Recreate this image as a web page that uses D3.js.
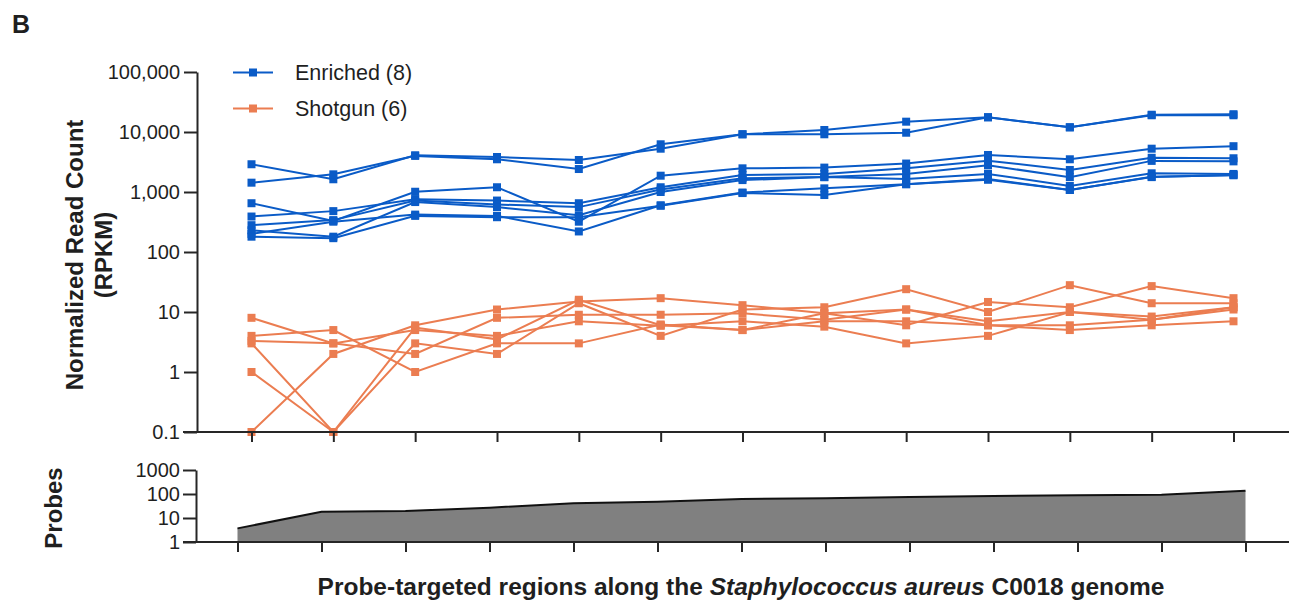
<!DOCTYPE html>
<html>
<head>
<meta charset="utf-8">
<script src="https://cdn.jsdelivr.net/npm/d3@7"></script>
<style>
  body { margin: 0; background: #fff; }
  svg text { font-family: "Liberation Sans", Arial, Helvetica, sans-serif; fill: #1f1f1f; }
</style>
</head>
<body>
<svg id="chart" width="1290" height="601"></svg>
<script>
// 13 probe-targeted regions, no labels on the x axis
var regions = d3.range(13);

// Enriched libraries (RPKM), one array per sample
var enriched1 = [2900, 1630, 4090, 3830, 3415, 5270, 9160, 9160, 9730, 17600, 11970, 19000, 19000];
var enriched2 = [1430, 1970, 4000, 3510, 2415, 6240, 9160, 10800, 14860, 17600, 11970, 19400, 19800];
var enriched3 = [650, 330, 1010, 1200, 320, 1870, 2480, 2550, 2980, 4140, 3510, 5270, 5800];
var enriched4 = [390, 480, 760, 720, 650, 1200, 1920, 2000, 2480, 3330, 2330, 3720, 3650];
var enriched5 = [280, 340, 720, 620, 560, 1100, 1700, 1770, 2000, 2780, 1770, 3300, 3240];
var enriched6 = [230, 180, 680, 560, 410, 1000, 1580, 1770, 1650, 2000, 1260, 2050, 2000];
var enriched7 = [200, 320, 420, 400, 220, 600, 980, 1150, 1350, 1640, 1080, 1770, 1920];
var enriched8 = [180, 170, 400, 380, 380, 590, 960, 890, 1350, 1600, 1080, 1800, 1900];

// Shotgun libraries (RPKM)
var shotgun1 = [8, 3, 5, 4, 7, 5.9, 7, 5.7, 3, 4, 10, 7.4, 11];
var shotgun2 = [4, 5, 1, 3, 3, 6.2, 5, 7, 7, 6, 5, 6, 7];
var shotgun3 = [3.3, 3, 2, 8, 9, 9, 9.5, 7.4, 11, 6, 6, 7.4, 12];
var shotgun4 = [3, 0.1, 5.5, 3.5, 16, 6, 5, 9.5, 11, 7, 10, 8.4, 12];
var shotgun5 = [1, 0.1, 3, 2, 14, 4, 11, 12, 24, 10, 28, 14, 14];
var shotgun6 = [0.1, 2, 6, 11, 15, 17, 13, 9.5, 6, 14.7, 12, 27, 17];

// probes per region
var probes = [3.7, 18, 19.5, 27, 41, 48, 62, 66, 75, 83, 88, 94, 138];

var readTicks = [0.1, 1, 10, 100, 1000, 10000, 100000];
var readTickLabels = ["0.1", "1", "10", "100", "1,000", "10,000", "100,000"];
var probeTicks = [1, 10, 100, 1000];
var probeTickLabels = ["1", "10", "100", "1000"];

var groups = [
  { name: "Enriched (8)", color: "#0a5bc7", series: [enriched1, enriched2, enriched3, enriched4, enriched5, enriched6, enriched7, enriched8] },
  { name: "Shotgun (6)", color: "#eb7d51", series: [shotgun1, shotgun2, shotgun3, shotgun4, shotgun5, shotgun6] }
];

var axisColor = "#262626";
var svg = d3.select("#chart");

var x = d3.scaleLinear().domain([0, 12]).range([251.5, 1233.5]);
var y = d3.scaleLog().domain([0.1, 100000]).range([432, 72]);
var xp = d3.scaleLinear().domain([0, 12]).range([237.5, 1245.5]);
var yp = d3.scaleLog().domain([1, 1000]).range([542, 470]);

function styleAxis(g) {
  g.selectAll("path, line").attr("stroke", axisColor).attr("stroke-width", 2);
  g.selectAll("text").attr("font-size", 20).attr("fill", "#1f1f1f")
    .attr("font-family", "Liberation Sans, Arial, sans-serif");
}

// ---- top panel ----
var line = d3.line().x(function (d, i) { return x(i); }).y(function (d) { return y(d); });

groups.slice().reverse().forEach(function (grp) {
  grp.series.forEach(function (s) {
    svg.append("path").datum(s)
      .attr("d", line).attr("fill", "none")
      .attr("stroke", grp.color).attr("stroke-width", 2);
    svg.append("g").selectAll("rect").data(s).enter().append("rect")
      .attr("x", function (d, i) { return x(i) - 4; })
      .attr("y", function (d) { return y(d) - 4; })
      .attr("width", 8).attr("height", 8)
      .attr("fill", grp.color);
  });
});

var yAxis = svg.append("g").attr("transform", "translate(197,0)")
  .call(d3.axisLeft(y).tickValues(readTicks)
    .tickFormat(function (d, i) { return readTickLabels[i]; })
    .tickSize(13).tickSizeOuter(0).tickPadding(4));
styleAxis(yAxis);

var xAxis = svg.append("g").attr("transform", "translate(0,432)")
  .call(d3.axisBottom(x).tickValues(regions).tickFormat("").tickSize(10).tickSizeOuter(0));
xAxis.select(".domain").remove();
styleAxis(xAxis);
svg.append("line").attr("x1", 183).attr("x2", 1289).attr("y1", 432).attr("y2", 432)
  .attr("stroke", axisColor).attr("stroke-width", 2);

// legend
groups.forEach(function (grp, i) {
  var ly = 72.5 + i * 36;
  svg.append("line").attr("x1", 233).attr("x2", 273).attr("y1", ly).attr("y2", ly)
    .attr("stroke", grp.color).attr("stroke-width", 2);
  svg.append("rect").attr("x", 249).attr("y", ly - 4).attr("width", 8).attr("height", 8)
    .attr("fill", grp.color);
  svg.append("text").attr("x", 295).attr("y", ly + 7.5).attr("font-size", 21.5).text(grp.name);
});

var ytitle = svg.append("text").attr("transform", "translate(83,255) rotate(-90)")
  .attr("text-anchor", "middle").attr("font-size", 24).attr("font-weight", "bold");
ytitle.append("tspan").attr("x", 0).attr("y", 0).text("Normalized Read Count");
ytitle.append("tspan").attr("x", 0).attr("y", 29).text("(RPKM)");

// ---- probes panel ----
var probeArea = d3.area()
  .x(function (d, i) { return xp(i); }).y0(yp(1)).y1(function (d) { return yp(d); });
var probeLine = d3.line()
  .x(function (d, i) { return xp(i); }).y(function (d) { return yp(d); });

svg.append("path").datum(probes).attr("d", probeArea).attr("fill", "#808080");
svg.append("path").datum(probes).attr("d", probeLine).attr("fill", "none")
  .attr("stroke", "#111").attr("stroke-width", 2);

var pyAxis = svg.append("g").attr("transform", "translate(196,0)")
  .call(d3.axisLeft(yp).tickValues(probeTicks)
    .tickFormat(function (d, i) { return probeTickLabels[i]; })
    .tickSize(13).tickSizeOuter(0).tickPadding(3));
styleAxis(pyAxis);

var pxAxis = svg.append("g").attr("transform", "translate(0,542)")
  .call(d3.axisBottom(xp).tickValues(regions).tickFormat("").tickSize(10).tickSizeOuter(0));
pxAxis.select(".domain").remove();
styleAxis(pxAxis);
svg.append("line").attr("x1", 183).attr("x2", 1289).attr("y1", 542).attr("y2", 542)
  .attr("stroke", axisColor).attr("stroke-width", 2);

svg.append("text").attr("transform", "translate(62,508) rotate(-90)")
  .attr("text-anchor", "middle").attr("font-size", 24).attr("font-weight", "bold").text("Probes");

var xtitle = svg.append("text").attr("x", 741).attr("y", 595)
  .attr("text-anchor", "middle").attr("font-size", 24.5).attr("font-weight", "bold");
xtitle.append("tspan").text("Probe-targeted regions along the ");
xtitle.append("tspan").attr("font-style", "italic").text("Staphylococcus aureus");
xtitle.append("tspan").text(" C0018 genome");

svg.append("text").attr("x", 12).attr("y", 33).attr("font-size", 25).attr("font-weight", "bold").text("B");
</script>
</body>
</html>
